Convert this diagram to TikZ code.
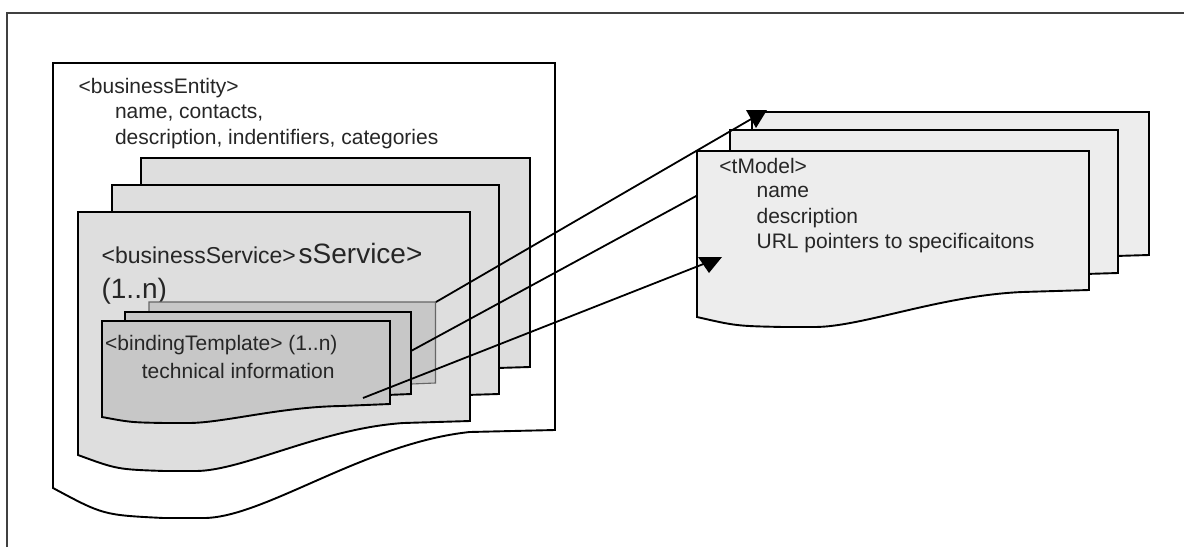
\documentclass[tikz,border=0pt]{standalone}
\usepackage{fontspec}
\setmainfont{Liberation Sans}
\newcommand{\docshape}[7]{% #1 style, #2 L, #3 T, #4 R, #5 yR, #6 yL, #7 yMin
  \pgfmathsetmacro\dsW{#4-#2}%
  \pgfmathsetmacro\dsxa{#4-0.17*\dsW}%
  \pgfmathsetmacro\dsxb{#2+0.62*\dsW}%
  \pgfmathsetmacro\dsxc{#2+0.42*\dsW}%
  \pgfmathsetmacro\dsxm{#2+0.3*\dsW}%
  \pgfmathsetmacro\dsxn{#2+0.22*\dsW}%
  \pgfmathsetmacro\dsxd{#2+0.1*\dsW}%
  \pgfmathsetmacro\dsya{#5+2}%
  \pgfmathsetmacro\dsyb{#5+0.15*(#7-#5)}%
  \pgfmathsetmacro\dsyd{#7-0.1*(#7-#6)}%
  \draw[#1] (#2,#3) -- (#4,#3) -- (#4,#5) -- (\dsxa,\dsya) .. controls (\dsxb,\dsyb) and (\dsxc,#7) .. (\dsxm,#7) -- (\dsxn,#7) .. controls (\dsxd,\dsyd) .. (#2,#6) -- cycle;%
}
\tikzset{
  docline/.style={draw=black, line width=1.9pt, line join=miter},
  entitydoc/.style={docline, fill=white},
  servicedoc/.style={docline, fill=black!13},
  bindingdoc/.style={docline, fill=black!22},
  bindingback/.style={draw=black!60, line width=1.1pt, fill=black!22},
  tmodeldoc/.style={docline, fill=black!7},
  frameline/.style={draw=black!75, line width=1.8pt},
  conn/.style={draw=black, line width=1.8pt},
  txt/.style={anchor=base west, inner sep=0pt, text=black!85, font=\fontsize{21}{25}\selectfont},
  midtxt/.style={txt, font=\fontsize{23}{27}\selectfont},
  bigtxt/.style={txt, font=\fontsize{28}{32}\selectfont}
}
\begin{document}
\begin{tikzpicture}[x=1pt, y=-1pt]
\useasboundingbox (0,0) rectangle (1184,547);
% frame
\draw[frameline] (7,547) -- (7,13.3) -- (1184,13.3);
% businessEntity
\docshape{entitydoc}{53}{63}{555}{430}{488}{518}
\node[txt] (be) at (78.5,93) {<businessEntity>};
\node[txt] (be1) at (114.8,118) {name, contacts,};
\node[txt] (be2) at (114.8,144) {description, indentifiers, categories};
% businessService stack
\docshape{servicedoc}{141}{158}{530}{367}{401}{417}
\docshape{servicedoc}{112}{185}{499}{394}{428}{444}
\docshape{servicedoc}{78}{212}{470}{421}{455}{471}
\node[midtxt] (bs) at (101.4,263) {<businessService>};
\node[bigtxt] (bs2) at (298.5,263) {sService>};
\node[bigtxt] (bsn) at (101.4,298) {(1..n)};
% bindingTemplate stack
\docshape{bindingback}{149}{302}{435.5}{383}{396}{402}
\docshape{bindingdoc}{125}{312}{411}{394}{407}{413}
\docshape{bindingdoc}{102}{321}{390}{404}{417}{423}
\node[txt] (bt) at (105,350) {<bindingTemplate> (1..n)};
\node[txt] (bt1) at (141.7,378.3) {technical information};
% tModel stack
\docshape{tmodeldoc}{752}{112}{1149}{255}{282}{292}
\docshape{tmodeldoc}{730}{130}{1118}{273}{300}{310}
% connector 2 ends under front tModel
\coordinate (b2) at (411,351);
\coordinate (t2) at (698,195);
\draw[conn] (b2) -- (t2);
\docshape{tmodeldoc}{697}{151}{1089}{290}{317}{327}
\node[txt] (tm) at (719.2,173) {<tModel>};
\node[txt] (tm1) at (756.4,197.5) {name};
\node[txt] (tm2) at (756.4,223) {description};
\node[txt] (tm3) at (756.4,248.5) {URL pointers to specificaitons};
% connectors 1 and 3
\coordinate (b1) at (436,302);
\coordinate (t1) at (753,118);
\coordinate (b3) at (363,398);
\coordinate (t3) at (706,263);
\draw[conn] (b1) -- (t1);
\draw[conn] (b3) -- (t3);
\fill[black] (t1) ++(-7,-8) -- ++(21,0) -- ++(-11,18) -- cycle;
\fill[black] (t3) ++(-8,-6) -- ++(24,0) -- ++(-13,16) -- cycle;
\end{tikzpicture}
\end{document}
